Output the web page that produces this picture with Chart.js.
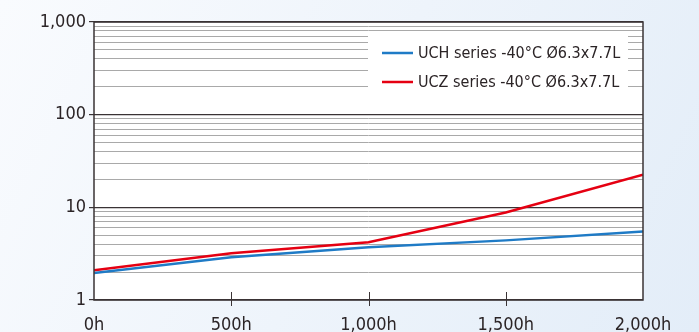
<!DOCTYPE html>
<html>
<head>
<meta charset="utf-8">
<script src="https://cdn.jsdelivr.net/npm/chart.js@4/dist/chart.umd.min.js"></script>
<style>
  html, body { margin: 0; padding: 0; }
  #wrap { width: 699px; height: 332px; }
</style>
</head>
<body>
<div id="wrap"><canvas id="lifeChart" width="699" height="332"></canvas></div>
<script>
// hours on test
var hours = [0, 500, 1000, 1500, 2000];
var uchValues = [1.95, 2.9, 3.7, 4.4, 5.5];
var uczValues = [2.1, 3.2, 4.2, 8.8, 22.5];
var seriesNames = ['UCH series -40°C Ø6.3x7.7L', 'UCZ series -40°C Ø6.3x7.7L'];
var seriesColors = ['#1f7bc6', '#e50012'];
var yMajorTicks = [1, 10, 100, 1000];
var xTickValues = [0, 500, 1000, 1500, 2000];

var fontFamily = '"Liberation Sans Narrow", "DejaVu Sans Condensed", Arial, sans-serif';

// background gradient + white plot area, frame, inner x ticks, legend box
var decorPlugin = {
  id: 'decor',
  beforeDraw: function(chart) {
    var ctx = chart.ctx, a = chart.chartArea;
    var g = ctx.createLinearGradient(0, 0, chart.width, chart.height);
    g.addColorStop(0, '#f9fbfe');
    g.addColorStop(1, '#e3edf8');
    ctx.save();
    ctx.fillStyle = g;
    ctx.fillRect(0, 0, chart.width, chart.height);
    ctx.fillStyle = '#ffffff';
    ctx.fillRect(a.left, a.top, a.right - a.left, a.bottom - a.top);
    ctx.restore();
  },
  afterDatasetsDraw: function(chart) {
    var ctx = chart.ctx, a = chart.chartArea;
    var xs = chart.scales.x;
    ctx.save();
    // frame
    ctx.strokeStyle = '#3a3335';
    ctx.lineWidth = 1.5;
    ctx.strokeRect(a.left, a.top, a.right - a.left, a.bottom - a.top);
    // x ticks poking into the plot
    ctx.lineWidth = 1;
    xTickValues.forEach(function(v) {
      if (v === xs.min || v === xs.max) return;
      var px = Math.round(xs.getPixelForValue(v)) + 0.5;
      ctx.beginPath();
      ctx.moveTo(px, a.bottom - 8);
      ctx.lineTo(px, a.bottom + 6);
      ctx.stroke();
    });
    // legend
    var bx = 368, by = 35, bw = 260, bh = 68;
    ctx.fillStyle = '#ffffff';
    ctx.fillRect(bx, by, bw, bh);
    ctx.font = '16px ' + fontFamily;
    ctx.textBaseline = 'middle';
    chart.data.datasets.forEach(function(ds, i) {
      var ly = 53 + i * 29;
      ctx.strokeStyle = ds.borderColor;
      ctx.lineWidth = 2.5;
      ctx.beginPath();
      ctx.moveTo(382, ly);
      ctx.lineTo(413, ly);
      ctx.stroke();
      ctx.fillStyle = '#2b2426';
      ctx.fillText(ds.label, 418, ly + 1);
    });
    ctx.restore();
  }
};

var ctx = document.getElementById('lifeChart').getContext('2d');
var chart = new Chart(ctx, {
  type: 'line',
  data: {
    datasets: [
      {
        label: seriesNames[0],
        data: hours.map(function(h, i) { return { x: h, y: uchValues[i] }; }),
        borderColor: seriesColors[0],
        borderWidth: 2.5,
        pointRadius: 0,
        tension: 0,
        fill: false
      },
      {
        label: seriesNames[1],
        data: hours.map(function(h, i) { return { x: h, y: uczValues[i] }; }),
        borderColor: seriesColors[1],
        borderWidth: 2.5,
        pointRadius: 0,
        tension: 0,
        fill: false
      }
    ]
  },
  options: {
    responsive: false,
    animation: false,
    layout: { padding: { left: 0, right: 56, top: 22, bottom: 0 } },
    plugins: {
      legend: { display: false },
      tooltip: { enabled: false }
    },
    scales: {
      x: {
        type: 'linear',
        min: 0,
        max: 2000,
        afterBuildTicks: function(scale) {
          scale.ticks = xTickValues.map(function(v) { return { value: v }; });
        },
        afterFit: function(scale) { scale.height = 32; },
        grid: { drawOnChartArea: false, drawTicks: false },
        border: { display: false },
        ticks: {
          padding: 15,
          maxRotation: 0,
          autoSkip: false,
          color: '#2b2426',
          font: { family: fontFamily, size: 18 },
          callback: function(v) { return v.toLocaleString('en-US') + 'h'; }
        }
      },
      y: {
        type: 'logarithmic',
        min: 1,
        max: 1000,
        afterBuildTicks: function(scale) {
          var t = [];
          for (var d = 1; d < 1000; d *= 10) {
            for (var m = 1; m < 10; m++) t.push({ value: d * m });
          }
          t.push({ value: 1000 });
          scale.ticks = t;
        },
        afterFit: function(scale) { scale.width = 94; },
        border: { display: false },
        grid: {
          lineWidth: function(c) { return yMajorTicks.indexOf(c.tick.value) >= 0 ? 1.2 : 1; },
          color: function(c) { return yMajorTicks.indexOf(c.tick.value) >= 0 ? '#3a3335' : '#a9a9a9'; },
          tickColor: function(c) { return yMajorTicks.indexOf(c.tick.value) >= 0 ? '#3a3335' : 'rgba(0,0,0,0)'; },
          tickLength: 5
        },
        ticks: {
          padding: 3,
          autoSkip: false,
          color: '#2b2426',
          font: { family: fontFamily, size: 18 },
          callback: function(v) {
            return yMajorTicks.indexOf(v) >= 0 ? v.toLocaleString('en-US') : '';
          }
        }
      }
    }
  },
  plugins: [decorPlugin]
});
</script>
</body>
</html>
